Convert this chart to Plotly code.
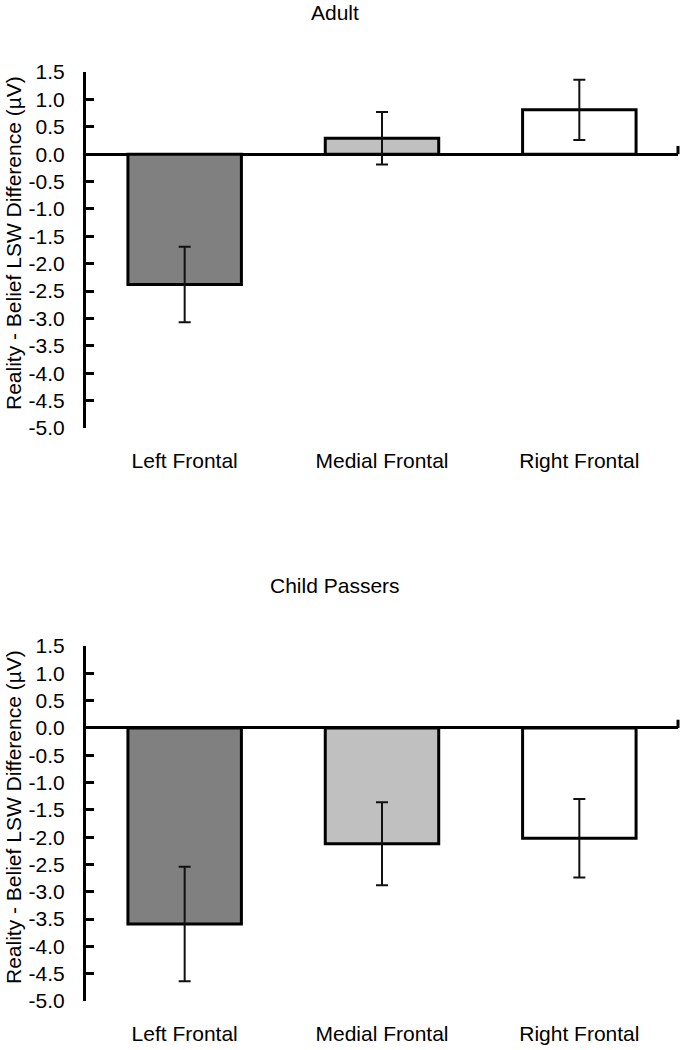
import plotly.graph_objects as go
from plotly.subplots import make_subplots

regions = ['Left Frontal', 'Medial Frontal', 'Right Frontal']
bar_colors = ['#808080', '#c0c0c0', '#ffffff']

adult_means = [-2.38, 0.29, 0.81]
adult_err = [0.69, 0.48, 0.55]

child_means = [-3.59, -2.12, -2.02]
child_err = [1.05, 0.76, 0.72]

y_ticks = [1.5, 1.0, 0.5, 0.0, -0.5, -1.0, -1.5, -2.0, -2.5, -3.0, -3.5, -4.0, -4.5, -5.0]
y_title = 'Reality - Belief LSW Difference (µV)'
panel_titles = ['Adult', 'Child Passers']

FONT = 'Liberation Sans, Arial, sans-serif'
FS = 21
W, H = 680, 1050

fig = make_subplots(rows=2, cols=1)

for i, (means, errs) in enumerate([(adult_means, adult_err), (child_means, child_err)]):
    fig.add_trace(
        go.Bar(
            x=regions,
            y=means,
            width=0.575,
            marker=dict(color=bar_colors, line=dict(color='black', width=3)),
            error_y=dict(type='data', array=errs, color='#111111', thickness=2, width=6),
            showlegend=False,
        ),
        row=i + 1, col=1
    )

fig.update_layout(
    width=W, height=H,
    margin=dict(l=0, r=0, t=0, b=0, autoexpand=False),
    paper_bgcolor='white',
    plot_bgcolor='white',
    font=dict(family=FONT, size=FS, color='black'),
    xaxis=dict(domain=[86 / W, 678 / W]),
    xaxis2=dict(domain=[86 / W, 678 / W]),
    yaxis=dict(domain=[1 - 428 / H, 1 - 72 / H]),
    yaxis2=dict(domain=[1 - 1001 / H, 1 - 646 / H]),
)

fig.update_xaxes(
    automargin=False,
    showline=False, showgrid=False, zeroline=False,
    ticks='outside', ticklen=14, tickcolor='rgba(0,0,0,0)',
    tickfont=dict(family=FONT, size=FS, color='black'),
    range=[-0.5, 2.5],
)
fig.update_yaxes(
    automargin=False,
    range=[-5.0, 1.5],
    tickvals=y_ticks,
    ticktext=[f'{v:.1f}' for v in y_ticks],
    showline=True, linecolor='black', linewidth=3,
    ticks='inside', ticklen=8, tickwidth=3, tickcolor='black',
    ticklabelstandoff=14,
    showgrid=False,
    zeroline=True, zerolinecolor='black', zerolinewidth=3,
    tickfont=dict(family=FONT, size=FS, color='black'),
)

# small end tick at right of the category axis
for xr, yr in [('x domain', 'y'), ('x2 domain', 'y2')]:
    fig.add_shape(type='line', xref=xr, yref=yr, x0=1, x1=1, y0=0, y1=0.15,
                  line=dict(color='black', width=3))

# panel titles and y axis titles
title_y = [1 - 12 / H, 1 - 585 / H]
ytitle_y = [1 - 243 / H, 1 - 817 / H]
for t, ty, yy in zip(panel_titles, title_y, ytitle_y):
    fig.add_annotation(text=t, xref='paper', yref='paper', x=335 / W, y=ty,
                       xanchor='center', yanchor='middle', showarrow=False,
                       font=dict(family=FONT, size=FS, color='black'))
    fig.add_annotation(text=y_title, xref='paper', yref='paper', x=13 / W, y=yy,
                       xanchor='center', yanchor='middle', textangle=-90, showarrow=False,
                       font=dict(family=FONT, size=FS, color='black'))

# page has a default body margin; drop it so the figure sits at the window origin
fig.write_html('out.html', config={'displayModeBar': False},
               post_script="document.body.style.margin='0px';")
